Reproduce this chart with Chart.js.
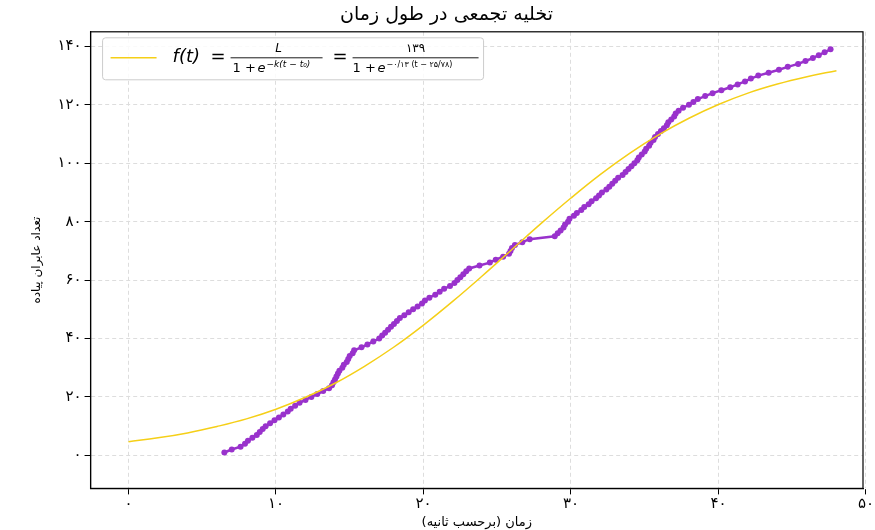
<!DOCTYPE html>
<html>
<head>
<meta charset="utf-8">
<script src="https://cdn.jsdelivr.net/npm/chart.js@4"></script>
<style>
  body { margin: 0; background: #fff; }
</style>
</head>
<body>
<canvas id="chart" width="875" height="530"></canvas>
<script>
// time (s) at which each pedestrian left; count is its index + 1
const exitTimes = [6.5, 7.0, 7.6, 7.9, 8.1, 8.4, 8.7, 8.9, 9.1, 9.3, 9.6,
  9.9, 10.2, 10.5, 10.8, 11.0, 11.3, 11.6, 12.0, 12.4, 12.8, 13.2, 13.6,
  13.8, 13.9, 14.0, 14.1, 14.2, 14.3, 14.5, 14.6, 14.8, 14.9, 15.0, 15.2, 15.3,
  15.8, 16.2, 16.6, 17.0, 17.2, 17.4, 17.6, 17.8, 18.0, 18.2, 18.4,
  18.7, 19.0, 19.3, 19.6, 19.9, 20.1, 20.4, 20.8, 21.1, 21.4, 21.8, 22.1,
  22.3, 22.5, 22.7, 22.9, 23.1, 23.8, 24.5, 24.9, 25.4, 25.8, 25.9, 26.0, 26.2,
  26.7, 27.2, 28.9, 29.1, 29.3, 29.5, 29.6, 29.8, 29.9,
  30.2, 30.4, 30.7, 30.9, 31.2, 31.4, 31.7, 31.9,
  32.1, 32.4, 32.6, 32.8, 33.0, 33.2, 33.5, 33.7, 33.9,
  34.1, 34.3, 34.5, 34.6, 34.8, 35.0, 35.1, 35.3, 35.4, 35.6, 35.7, 35.9,
  36.1, 36.3, 36.5, 36.6, 36.8, 37.0, 37.1, 37.3, 37.6, 38.0, 38.3, 38.6,
  39.1, 39.6, 40.2, 40.8, 41.3, 41.8, 42.2, 42.7, 43.4, 44.1, 44.7, 45.4,
  45.9, 46.4, 46.8, 47.2, 47.6];

// fitted logistic curve
const fitTimes = [0, 2, 4, 6, 8, 10, 12, 14, 16, 18, 20, 22, 24, 26, 28, 30, 32, 34, 36, 38, 40, 42, 44, 46, 48];
const fitValues = [4.7, 6.0, 7.7, 9.9, 12.5, 15.8, 19.9, 24.7, 30.5, 37.1, 44.6, 52.8, 61.5, 70.5, 79.5, 88.1, 96.2, 103.5, 109.9, 115.4, 120.1, 124.0, 127.1, 129.6, 131.7];

const xTicks = [0, 10, 20, 30, 40, 50];
const yTicks = [0, 20, 40, 60, 80, 100, 120, 140];

const fa = n => String(n).replace(/[0-9]/g, d => '۰۱۲۳۴۵۶۷۸۹'[d]);
const FONT = '"DejaVu Sans", sans-serif';

const legendBox = {
  id: 'legendBox',
  afterDraw(chart) {
    const ctx = chart.ctx, a = chart.chartArea;
    const x = a.left + 12, y = a.top + 6;
    ctx.save();
    ctx.fillStyle = 'rgba(255,255,255,0.85)';
    ctx.strokeStyle = '#ccc';
    ctx.lineWidth = 1;
    ctx.beginPath();
    ctx.roundRect(x, y, 381, 42, 3);
    ctx.fill(); ctx.stroke();
    ctx.strokeStyle = '#f5cf17'; ctx.lineWidth = 1.5;
    ctx.beginPath(); ctx.moveTo(x + 8, y + 20); ctx.lineTo(x + 54, y + 20); ctx.stroke();
    ctx.fillStyle = '#000';
    ctx.textBaseline = 'middle';
    ctx.font = 'italic 18px ' + FONT;
    ctx.fillText('f(t)', x + 70, y + 20);
    ctx.font = '18px ' + FONT;
    ctx.fillText('=', x + 108, y + 20);
    // first fraction
    ctx.textAlign = 'center';
    ctx.font = 'italic 12px ' + FONT;
    ctx.fillText('L', x + 176, y + 11);
    ctx.textAlign = 'left';
    ctx.font = '13px ' + FONT;
    ctx.fillText('1 + ', x + 130, y + 31);
    ctx.font = 'italic 13px ' + FONT;
    ctx.fillText('e', x + 155, y + 31);
    ctx.font = 'italic 9px ' + FONT;
    ctx.fillText('−k(t − t₀)', x + 164, y + 27);
    ctx.beginPath(); ctx.lineWidth = 0.9; ctx.strokeStyle = '#000';
    ctx.moveTo(x + 128, y + 20); ctx.lineTo(x + 220, y + 20); ctx.stroke();
    ctx.font = '18px ' + FONT;
    ctx.fillText('=', x + 230, y + 20);
    // second fraction
    ctx.textAlign = 'center';
    ctx.font = '12px ' + FONT;
    ctx.fillText(fa(139), x + 313, y + 11);
    ctx.textAlign = 'left';
    ctx.font = '13px ' + FONT;
    ctx.fillText('1 + ', x + 250, y + 31);
    ctx.font = 'italic 13px ' + FONT;
    ctx.fillText('e', x + 275, y + 31);
    ctx.font = '8px ' + FONT;
    ctx.fillText('−' + fa(0) + '/' + fa(13) + ' (t − ' + fa(25) + '/' + fa(78) + ')', x + 284, y + 27);
    ctx.beginPath();
    ctx.moveTo(x + 250, y + 20); ctx.lineTo(x + 376, y + 20); ctx.stroke();
    ctx.restore();
  }
};

const frame = {
  id: 'frame',
  afterDraw(chart) {
    const { ctx, chartArea: a } = chart;
    ctx.save(); ctx.strokeStyle = '#000'; ctx.lineWidth = 1.2;
    ctx.strokeRect(a.left, a.top, a.right - a.left, a.bottom - a.top);
    ctx.restore();
  }
};

new Chart(document.getElementById('chart'), {
  type: 'scatter',
  data: {
    datasets: [{
      label: 'fit',
      type: 'line',
      data: fitTimes.map((t, i) => ({ x: t, y: fitValues[i] })),
      borderColor: '#f5cf17',
      borderWidth: 1.5,
      pointRadius: 0,
      tension: 0.4
    }, {
      label: 'data',
      type: 'line',
      data: exitTimes.map((t, i) => ({ x: t, y: i + 1 })),
      borderColor: '#9932cc',
      backgroundColor: '#9932cc',
      borderWidth: 2.5,
      pointRadius: 3,
      pointBorderWidth: 0,
      tension: 0
    }]
  },
  options: {
    responsive: false,
    animation: false,
    layout: { padding: { left: 30, right: 12, top: 0, bottom: 0 } },
    scales: {
      x: {
        type: 'linear', min: -2.57, max: 49.8,
        afterBuildTicks: s => { s.ticks = xTicks.map(v => ({ value: v })); },
        ticks: { autoSkip: false, padding: 1, callback: v => fa(v), color: '#000', font: { family: FONT, size: 15 } },
        grid: { color: '#ddd', tickColor: '#000', tickLength: 6 },
        border: { color: '#000', width: 1.2, dash: [4, 3] },
        title: { display: true, text: 'زمان (برحسب ثانیه)', color: '#000', font: { family: FONT, size: 13 }, padding: 0 }
      },
      y: {
        type: 'linear', min: -11.3, max: 145,
        afterBuildTicks: s => { s.ticks = yTicks.map(v => ({ value: v })); },
        ticks: { autoSkip: false, callback: v => fa(v), color: '#000', font: { family: FONT, size: 15 } },
        grid: { color: '#ddd', tickColor: '#000', tickLength: 6 },
        border: { color: '#000', width: 1.2, dash: [4, 3] },
        title: { display: true, text: 'تعداد عابران پیاده', color: '#000', font: { family: FONT, size: 12 }, padding: { top: 0, bottom: 10 } }
      }
    },
    plugins: {
      legend: { display: false },
      tooltip: { enabled: false },
      title: { display: true, text: 'تخلیه تجمعی در طول زمان', color: '#000', font: { family: FONT, size: 19, weight: 'normal' }, padding: { top: 4, bottom: 5 } }
    }
  },
  plugins: [legendBox, frame]
});
</script>
</body>
</html>
